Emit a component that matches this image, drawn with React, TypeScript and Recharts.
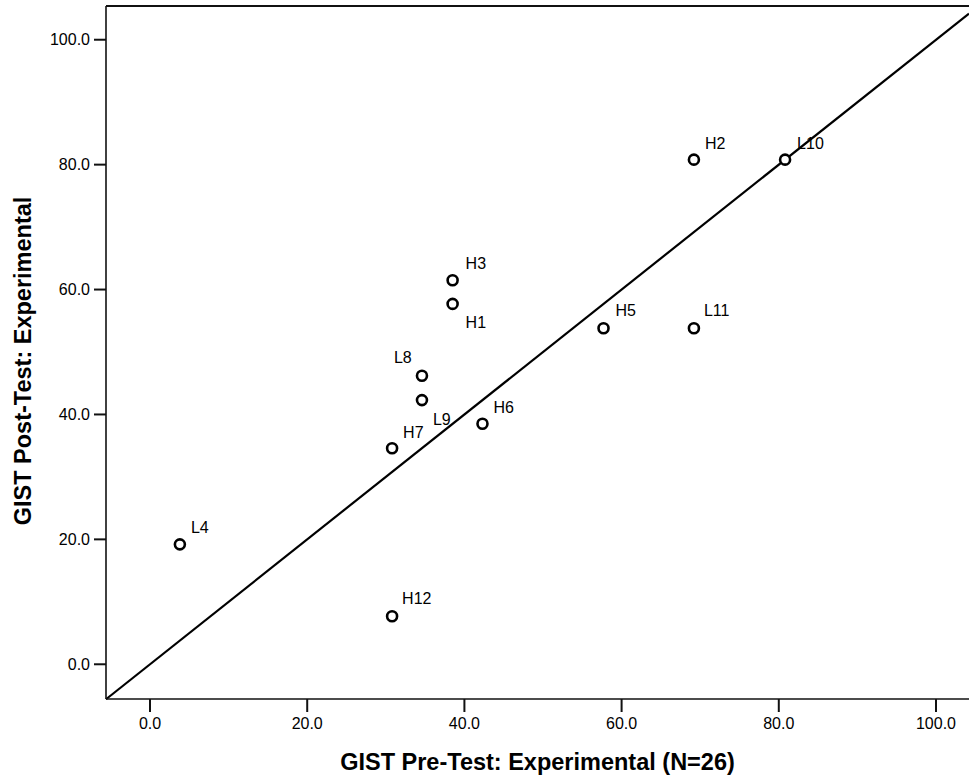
import React from 'react';
import {
  ScatterChart,
  Scatter,
  XAxis,
  YAxis,
  ReferenceLine,
  Label,
} from 'recharts';

// GIST scores, percent correct out of 26 items
const cases = ['L4', 'H12', 'H7', 'L9', 'L8', 'H3', 'H1', 'H6', 'H5', 'L11', 'H2', 'L10'];
const preTest = [3.8, 30.8, 30.8, 34.6, 34.6, 38.5, 38.5, 42.3, 57.7, 69.2, 69.2, 80.8];
const postTest = [19.2, 7.7, 34.6, 42.3, 46.2, 61.5, 57.7, 38.5, 53.8, 53.8, 80.8, 80.8];

const tickValues = [0, 20, 40, 60, 80, 100];

const X_DOMAIN: [number, number] = [-5.6, 104.2];
const Y_DOMAIN: [number, number] = [-5.56, 105.4];

// where each case label sits relative to its marker
const labelOffsets: Record<string, [number, number]> = {
  L4: [11, -17],
  H12: [10, -18],
  H7: [11, -16],
  L9: [11, 19],
  L8: [-28, -18],
  H3: [13, -17],
  H1: [13, 19],
  H6: [11, -16],
  H5: [12, -18],
  L11: [10, -18],
  H2: [11, -16],
  L10: [12, -16],
};

const points = cases.map((name, i) => ({
  name,
  pre: preTest[i],
  post: postTest[i],
}));

const FONT = '"Liberation Sans", Arial, Helvetica, sans-serif';
const TITLE_STYLE = { fontSize: 23.5, fontWeight: 'bold' as const, fill: '#000', fontFamily: FONT };

const CaseMarker = (props: any) => {
  const { cx, cy, payload } = props;
  const [dx, dy] = labelOffsets[payload.name] || [10, -16];
  return (
    <g>
      <circle cx={cx} cy={cy} r={5} fill="#fff" stroke="#000" strokeWidth={2.6} />
      <text
        x={cx + dx}
        y={cy + dy}
        fontSize={16}
        fontFamily={FONT}
        fill="#000"
        dominantBaseline="central"
      >
        {payload.name}
      </text>
    </g>
  );
};

const XTitle = ({ viewBox }: any) => (
  <text x={viewBox.x + viewBox.width / 2} y={770} textAnchor="middle" style={TITLE_STYLE}>
    GIST Pre-Test: Experimental (N=26)
  </text>
);

const YTitle = () => (
  <text x={31} y={361} transform="rotate(-90, 31, 361)" textAnchor="middle" style={TITLE_STYLE}>
    GIST Post-Test: Experimental
  </text>
);

const fmt = (v: number) => v.toFixed(1);

export default function App() {
  return (
    <div style={{ position: 'absolute', left: 0, top: 0, width: 969, height: 778, background: '#fff' }}>
      <ScatterChart
        width={969}
        height={778}
        margin={{ top: 6, right: 0, bottom: 0, left: 0 }}
        style={{ fontFamily: FONT }}
      >
        <XAxis
          type="number"
          dataKey="pre"
          domain={X_DOMAIN}
          allowDataOverflow
          ticks={tickValues}
          tickFormatter={fmt}
          height={79}
          tickSize={13}
          tickMargin={6}
          axisLine={{ stroke: '#111', strokeWidth: 1.6 }}
          tickLine={{ stroke: '#111', strokeWidth: 2 }}
          tick={{ fill: '#000', fontSize: 16, fontFamily: FONT }}
        >
          <Label content={XTitle} />
        </XAxis>
        <YAxis
          type="number"
          dataKey="post"
          domain={Y_DOMAIN}
          allowDataOverflow
          ticks={tickValues}
          tickFormatter={fmt}
          width={106}
          tickSize={12}
          tickMargin={4}
          axisLine={{ stroke: '#111', strokeWidth: 1.6 }}
          tickLine={{ stroke: '#111', strokeWidth: 2 }}
          tick={{ fill: '#000', fontSize: 16, fontFamily: FONT }}
        >
          <Label content={YTitle} />
        </YAxis>
        {/* frame top edge */}
        <ReferenceLine y={Y_DOMAIN[1]} stroke="#111" strokeWidth={2} ifOverflow="visible" />
        {/* y = x: no change from pre- to post-test */}
        <ReferenceLine
          segment={[
            { x: X_DOMAIN[0], y: X_DOMAIN[0] },
            { x: X_DOMAIN[1], y: X_DOMAIN[1] },
          ]}
          stroke="#000"
          strokeWidth={2.2}
          ifOverflow="visible"
        />
        <Scatter data={points} shape={CaseMarker} isAnimationActive={false} />
      </ScatterChart>
    </div>
  );
}
